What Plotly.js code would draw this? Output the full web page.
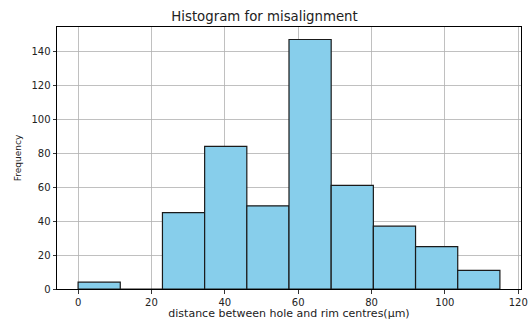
<!DOCTYPE html>
<html>
<head>
<meta charset="utf-8">
<script src="https://cdn.plot.ly/plotly-3.0.1.min.js"></script>
<style>
  html, body { margin: 0; padding: 0; background: #fff; }
  #chart { width: 529px; height: 320px; }
</style>
</head>
<body>
<div id="chart"></div>
<script>
// Histogram bins (left edges, in µm) and counts per bin
const binLeft = [0, 11.5, 23, 34.5, 46, 57.5, 69, 80.5, 92, 103.5];
const binWidth = 11.5;
const counts = [4, 0, 45, 84, 49, 147, 61, 37, 25, 11];
const xTicks = [0, 20, 40, 60, 80, 100, 120];
const yTicks = [0, 20, 40, 60, 80, 100, 120, 140];

const centers = binLeft.map(l => l + binWidth / 2);
const xMin = binLeft[0];
const xMax = binLeft[binLeft.length - 1] + binWidth;
const pad = (xMax - xMin) * 0.05;
const yMax = Math.max(...counts) * 1.05;

const font = 'DejaVu Sans, sans-serif';

const trace = {
  type: 'bar',
  x: centers,
  y: counts,
  width: binWidth,
  marker: { color: '#87ceeb', line: { color: '#1a1a1a', width: 1.2 } },
  hoverinfo: 'x+y'
};

const axisCommon = {
  showline: true, mirror: true, linecolor: '#000', linewidth: 1,
  showgrid: true, gridcolor: '#b0b0b0', gridwidth: 0.8,
  ticks: 'outside', ticklen: 3.5, tickcolor: '#000', tickwidth: 0.8,
  tickfont: { family: font, size: 10, color: '#222' },
  zeroline: false
};

const layout = {
  width: 529, height: 320,
  margin: { l: 57, r: 8, t: 27, b: 31 },
  paper_bgcolor: '#fff', plot_bgcolor: '#fff',
  title: { text: 'Histogram for misalignment', font: { family: font, size: 13.3, color: '#222' },
           x: 0.5, xanchor: 'center', y: 1 - 16 / 320, yanchor: 'middle' },
  xaxis: Object.assign({}, axisCommon, {
    range: [xMin - pad, xMax + pad],
    tickmode: 'array', tickvals: xTicks,
    title: { text: 'distance between hole and rim centres(μm)', font: { family: font, size: 11, color: '#222' }, standoff: 11 }
  }),
  yaxis: Object.assign({}, axisCommon, {
    range: [0, yMax],
    tickmode: 'array', tickvals: yTicks,
    title: { text: 'Frequency', font: { family: font, size: 9, color: '#222' }, standoff: 8 }
  }),
  bargap: 0,
  showlegend: false
};

Plotly.newPlot('chart', [trace], layout, { displayModeBar: false, staticPlot: true });
</script>
</body>
</html>
